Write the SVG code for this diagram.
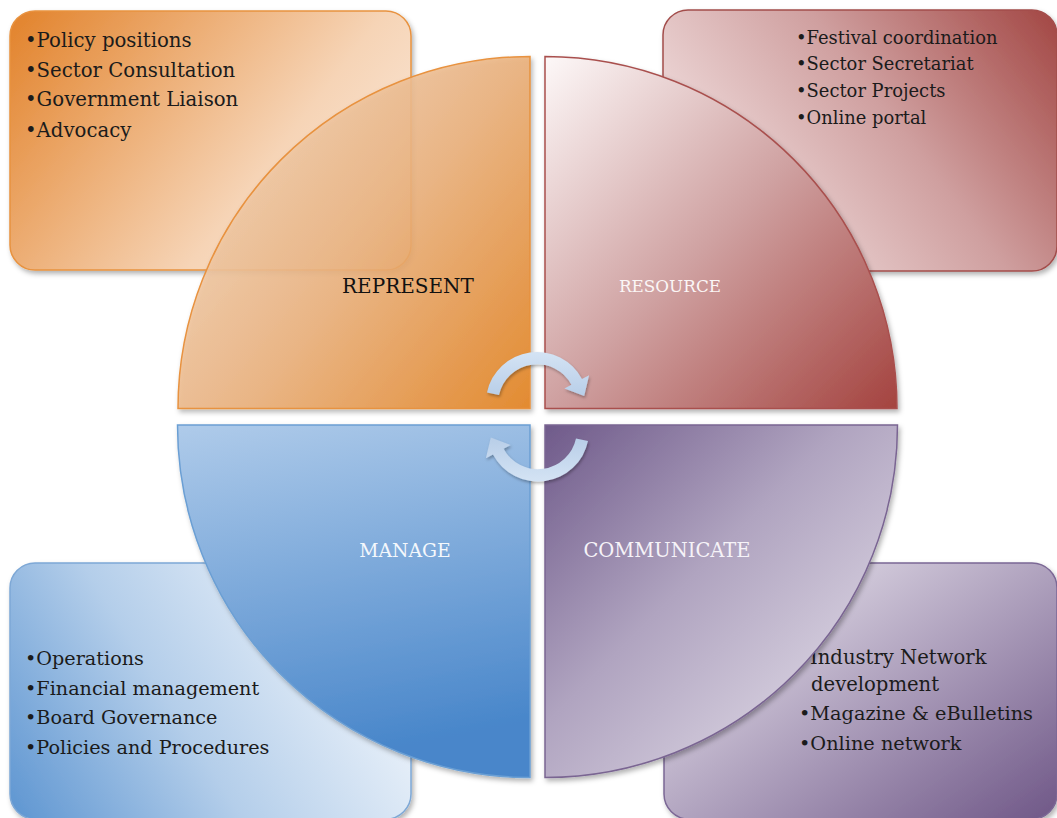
<svg xmlns="http://www.w3.org/2000/svg" width="1057" height="818" viewBox="0 0 1057 818">
<defs>
<style>
.t{font-family:"DejaVu Serif","Liberation Serif",serif;fill:#1b1b1b}
.lbl{font-family:"DejaVu Serif","Liberation Serif",serif;text-anchor:middle}
</style>
<filter id="sh" x="-10%" y="-10%" width="125%" height="125%"><feDropShadow dx="2" dy="3" stdDeviation="2.5" flood-color="#000" flood-opacity="0.3"/></filter>
<filter id="ash" x="-20%" y="-20%" width="150%" height="160%"><feDropShadow dx="1" dy="2" stdDeviation="1.5" flood-color="#000" flood-opacity="0.3"/></filter>
<linearGradient id="gTLr" x1="0" y1="0" x2="1" y2="0.5"><stop offset="0" stop-color="#e2822a"/><stop offset="0.75" stop-color="#f6d4b6"/><stop offset="1" stop-color="#f9e2cf"/></linearGradient>
<linearGradient id="gTLq" x1="0" y1="0.2" x2="1" y2="1"><stop offset="0" stop-color="#f4d9c1"/><stop offset="0.5" stop-color="#ebb17c"/><stop offset="1" stop-color="#e3811e"/></linearGradient>
<linearGradient id="gTRr" x1="0" y1="0.5" x2="1" y2="0"><stop offset="0" stop-color="#f0dddd"/><stop offset="0.5" stop-color="#cf9f9f"/><stop offset="1" stop-color="#a24643"/></linearGradient>
<linearGradient id="gTRq" x1="0" y1="0" x2="1" y2="1"><stop offset="0" stop-color="#fdf8f8"/><stop offset="0.5" stop-color="#cfa1a1"/><stop offset="1" stop-color="#a4433f"/></linearGradient>
<linearGradient id="gBLr" x1="0" y1="1" x2="1" y2="0.6"><stop offset="0" stop-color="#5d95d1"/><stop offset="0.5" stop-color="#b4ceea"/><stop offset="1" stop-color="#ebf2fa"/></linearGradient>
<linearGradient id="gBLq" x1="0" y1="0" x2="0.2" y2="1"><stop offset="0" stop-color="#afcbea"/><stop offset="1" stop-color="#4886ca"/></linearGradient>
<linearGradient id="gBRr" x1="0.15" y1="0.2" x2="1" y2="1"><stop offset="0" stop-color="#ddd7e4"/><stop offset="0.5" stop-color="#a697b6"/><stop offset="1" stop-color="#6f5787"/></linearGradient>
<linearGradient id="gBRq" x1="0" y1="0" x2="0.85" y2="0.85"><stop offset="0" stop-color="#6f5a8a"/><stop offset="0.5" stop-color="#b0a4c0"/><stop offset="1" stop-color="#ddd7e4"/></linearGradient>
<linearGradient id="gArr" x1="0" y1="0" x2="0" y2="1"><stop offset="0" stop-color="#d4e3f4"/><stop offset="1" stop-color="#b8cee8"/></linearGradient>
</defs>

<g id="represent-box">
<rect x="10" y="11" width="401" height="259" rx="25" fill="url(#gTLr)" stroke="#e8923f" stroke-width="1.5" filter="url(#sh)"/>
<text class="t" font-size="19.7" x="25" y="47">•Policy positions</text>
<text class="t" font-size="19.7" x="25" y="77">•Sector Consultation</text>
<text class="t" font-size="19.7" x="25" y="106">•Government Liaison</text>
<text class="t" font-size="19.7" x="25" y="137">•Advocacy</text>
</g>
<g id="resource-box">
<rect x="663" y="10" width="394" height="261" rx="25" fill="url(#gTRr)" stroke="#a34d4b" stroke-width="1.5" filter="url(#sh)"/>
<text class="t" font-size="17.9" x="796" y="43.5">•Festival coordination</text>
<text class="t" font-size="17.9" x="796" y="69.5">•Sector Secretariat</text>
<text class="t" font-size="17.9" x="796" y="97">•Sector Projects</text>
<text class="t" font-size="17.9" x="796" y="124">•Online portal</text>
</g>
<g id="manage-box">
<rect x="10" y="563" width="401" height="256" rx="25" fill="url(#gBLr)" stroke="#7ea8d6" stroke-width="1.5" filter="url(#sh)"/>
<text class="t" font-size="19.2" x="25" y="665">•Operations</text>
<text class="t" font-size="19.2" x="25" y="695">•Financial management</text>
<text class="t" font-size="19.2" x="25" y="724">•Board Governance</text>
<text class="t" font-size="19.2" x="25" y="754">•Policies and Procedures</text>
</g>
<g id="communicate-box">
<rect x="664" y="563" width="393" height="256" rx="25" fill="url(#gBRr)" stroke="#7b6795" stroke-width="1.5" filter="url(#sh)"/>
<text class="t" font-size="19.6" x="810" y="664">Industry Network</text>
<text class="t" font-size="19.6" x="811" y="691">development</text>
<text class="t" font-size="19.3" x="799" y="719.5">•Magazine &amp; eBulletins</text>
<text class="t" font-size="19.3" x="799" y="750">•Online network</text>
</g>

<g id="represent">
<path d="M530,408.5 L178,408.5 A352,352 0 0 1 530,56.5 Z" fill="url(#gTLq)" fill-opacity="0.88" stroke="#e8923f" stroke-width="1.5" filter="url(#sh)"/>
<text class="lbl" font-size="20" x="408" y="293" fill="#111">REPRESENT</text>
</g>
<g id="resource">
<path d="M545,408.5 L545,56.5 A352,352 0 0 1 897,408.5 Z" fill="url(#gTRq)" stroke="#a9504e" stroke-width="1.5" filter="url(#sh)"/>
<text class="lbl" font-size="16.8" x="670" y="292" fill="#fbf6f6">RESOURCE</text>
</g>
<g id="manage">
<path d="M530,425 L530,777.5 A352.5,352.5 0 0 1 177.5,425 Z" fill="url(#gBLq)" stroke="#6b9fd4" stroke-width="1.5" filter="url(#sh)"/>
<text class="lbl" font-size="18.8" x="405" y="557" fill="#f4f8fc">MANAGE</text>
</g>
<g id="communicate">
<path d="M545,425 L897.5,425 A352.5,352.5 0 0 1 545,777.5 Z" fill="url(#gBRq)" stroke="#7a6592" stroke-width="1.5" filter="url(#sh)"/>
<text class="lbl" font-size="19.5" x="667" y="557" fill="#f6f3f8">COMMUNICATE</text>
</g>

<g id="connectors">
<g filter="url(#ash)">
<path d="M487,392.4 A51,51 0 0 1 582,379.1 L589.1,375.3 L584.2,396 L564.4,388.5 L571.4,384.7 A39,39 0 0 0 499,395 Z" fill="url(#gArr)"/>
</g>
<g filter="url(#ash)">
<path transform="rotate(180 537.5 416.75)" d="M487,392.4 A51,51 0 0 1 582,379.1 L589.1,375.3 L584.2,396 L564.4,388.5 L571.4,384.7 A39,39 0 0 0 499,395 Z" fill="url(#gArr)"/>
</g>
</g>
</svg>
